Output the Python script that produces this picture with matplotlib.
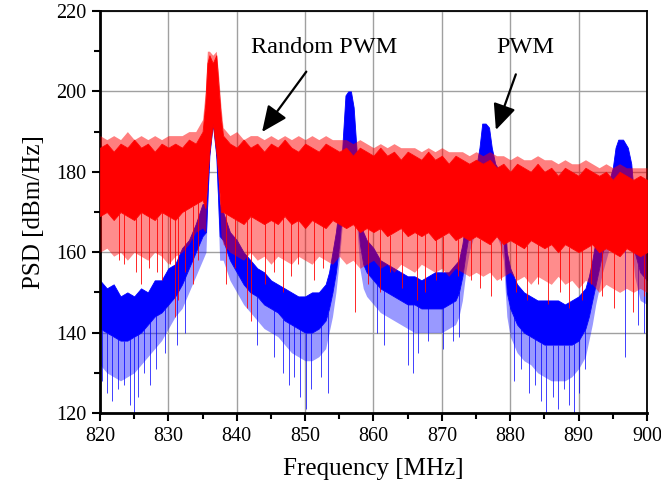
import numpy as np
import matplotlib.pyplot as plt

plt.rcParams['font.family'] = ['Liberation Serif', 'DejaVu Serif']

# ---- Random PWM (red) : band ----
red_freq = [820, 821, 822, 823, 824, 825, 826, 827, 828, 829, 830, 831, 832, 833, 834,
            835, 835.4, 835.7, 836.0, 836.5, 837.0, 837.3, 837.7, 838,
            839, 840, 841, 842, 843, 844, 845, 846, 847, 848, 849, 850, 851, 852, 853, 854, 855,
            856, 857, 858, 859, 860, 861, 862, 863, 864, 865, 866, 867, 868, 869, 870, 871, 872, 873, 874, 875,
            876, 877, 878, 879, 880, 881, 882, 883, 884, 885, 886, 887, 888, 889, 890, 891, 892, 893, 894, 895,
            896, 897, 898, 899, 900]
red_top = [189, 188, 189, 188, 190, 188, 189, 188, 189, 188, 189, 189, 189, 190, 190,
           193, 200, 210, 210, 209, 210, 205, 196, 191,
           189, 190, 188, 189, 189, 188, 189, 188, 189, 188, 189, 188, 189, 188, 189, 188, 188,
           188, 187, 188, 187, 186, 187, 186, 187, 186, 186, 186, 185, 186, 185, 186, 185, 185, 185, 184, 185,
           184, 185, 184, 184, 183, 184, 183, 183, 184, 183, 183, 182, 183, 182, 182, 183, 182, 181, 182, 181,
           182, 181, 181, 181, 181]
red_hi = [186, 187, 185, 187, 186, 188, 186, 187, 185, 187, 186, 187, 186, 188, 187,
          190, 197, 207, 209, 207, 209, 202, 193, 189,
          187, 186, 188, 186, 187, 185, 187, 186, 188, 186, 185, 187, 186, 185, 187, 186, 185,
          186, 184, 186, 185, 184, 186, 184, 185, 183, 185, 184, 183, 185, 183, 184, 182, 184, 183, 182, 183,
          182, 183, 181, 182, 180, 182, 181, 180, 182, 180, 181, 179, 181, 180, 179, 181, 180, 179, 180, 178,
          180, 179, 178, 179, 178]
red_lo = [169, 170, 168, 170, 169, 168, 170, 169, 168, 170, 169, 168, 170, 171, 172,
          173, 171, 178, 185, 192, 185, 179, 170, 170,
          169, 168, 167, 169, 168, 167, 168, 167, 169, 167, 168, 166, 168, 167, 166, 168, 167,
          166, 167, 165, 166, 165, 166, 164, 165, 166, 164, 165, 164, 165, 163, 164, 165, 163, 164, 163, 164,
          163, 162, 164, 162, 163, 162, 161, 163, 162, 161, 162, 160, 162, 161, 160, 161, 162, 160, 161, 160,
          159, 161, 160, 159, 160]
red_fringe = [160, 161, 159, 160, 158, 160, 159, 158, 160, 159, 157, 159, 160, 162, 165,
              166, 165, 178, 185, 192, 185, 179, 164, 162,
              160, 159, 158, 160, 158, 159, 157, 159, 158, 157, 159, 158, 157, 159, 158, 157, 159,
              157, 158, 156, 157, 158, 156, 157, 155, 157, 156, 155, 157, 156, 155, 156, 154, 156, 155, 154, 155,
              154, 155, 153, 154, 155, 153, 154, 152, 154, 153, 152, 154, 152, 153, 151, 153, 152, 150, 152, 151,
              150, 151, 150, 151, 150]
# deep downward spikes of the red trace
red_spike_f = [822.8, 823.5, 825.2, 826.0, 827.1, 828.3, 829.0, 830.3, 831.0, 831.4, 832.5, 833.6, 834.4,
               838.5, 839.8, 841.5, 842.1, 844.2, 845.5, 846.8, 847.9, 849.0, 851.3, 852.6, 857.3,
               859.2, 861.0, 862.4, 864.1, 866.3, 867.5, 869.2, 870.1, 872.4, 874.2, 875.6, 877.2,
               878.6, 880.8, 882.4, 884.0, 885.5, 887.3, 888.6, 890.5, 891.8, 893.4, 895.2, 898.0, 899.5]
red_spike_v = [158, 157, 155, 152, 156, 155, 153, 157, 144, 148, 155, 152, 158,
               152, 156, 146, 143, 152, 155, 150, 154, 157, 153, 156, 145,
               152, 150, 155, 151, 148, 150, 153, 155, 154, 153, 151, 149,
               153, 150, 148, 152, 147, 150, 146, 148, 152, 149, 146, 145, 149]

# ---- PWM (blue) ----
blue_freq = [820, 821, 822, 823, 824, 825, 826, 827, 828, 829, 830, 831, 832, 833, 834, 835,
             835.5, 836.0, 836.5, 837.0, 837.5,
             838, 839, 840, 841, 842, 843, 844, 845, 846, 847, 848, 849, 850, 851, 852, 853,
             853.5, 854, 854.5, 855, 855.5, 855.9, 856.3, 856.7, 857.1, 857.5, 858, 858.5,
             859, 860, 861, 862, 863, 864, 865, 866, 867, 868, 869, 870, 871, 872,
             872.5, 873, 873.5, 874, 874.5, 875, 875.5, 875.9, 876.4, 876.9, 877.3, 877.8, 878.5, 879, 879.5,
             880, 881, 882, 883, 884, 885, 886, 887, 888, 889, 890, 891,
             891.5, 892, 892.5, 893, 893.5, 894, 894.5, 895, 895.4, 895.8, 896.5, 897.2, 897.7, 898.2,
             899, 900]
blue_hi = [153, 151, 152, 149, 150, 149, 151, 150, 153, 153, 156, 157, 161, 163, 167, 172,
           172, 186, 196, 186, 172,
           170, 165, 163, 160, 158, 156, 155, 153, 152, 151, 150, 149, 149, 150, 150, 152,
           155, 160, 165, 172, 188, 199, 200, 200, 196, 186, 172, 165,
           163, 161, 158, 157, 156, 155, 154, 154, 153, 154, 155, 155, 155, 157,
           158, 162, 168, 174, 178, 181, 186, 192, 192, 191, 186, 182, 180, 176, 160,
           156, 152, 150, 149, 148, 148, 148, 148, 147, 148, 149, 151,
           154, 158, 163, 168, 172, 175, 178, 181, 186, 188, 188, 186, 182, 172,
           165, 163]
blue_lo = [141, 140, 139, 138, 138, 139, 140, 142, 144, 145, 147, 149, 152, 156, 160, 164,
           165, 184, 192, 184, 164,
           163, 158, 155, 152, 150, 149, 147, 146, 145, 143, 142, 141, 140, 140, 141, 143,
           146, 150, 155, 162, 172, 180, 182, 182, 180, 172, 162, 157,
           155, 153, 151, 150, 149, 148, 147, 147, 146, 146, 146, 146, 147, 148,
           150, 154, 160, 165, 168, 170, 173, 176, 176, 176, 172, 170, 168, 164, 150,
           146, 142, 140, 139, 138, 137, 137, 137, 137, 137, 138, 141,
           144, 148, 152, 156, 160, 163, 166, 168, 172, 174, 174, 172, 168, 160,
           155, 153]
blue_fringe = [132, 130, 129, 128, 129, 130, 132, 134, 136, 138, 141, 144, 146, 150, 154, 158,
               160, 184, 192, 184, 158,
               158, 153, 150, 147, 145, 143, 141, 140, 139, 137, 135, 134, 133, 133, 134, 136,
               140, 144, 150, 158, 168, 178, 180, 180, 178, 168, 156, 151,
               149, 147, 145, 144, 143, 142, 141, 140, 140, 140, 140, 140, 141, 142,
               144, 148, 155, 160, 163, 165, 168, 172, 172, 172, 168, 165, 162, 158, 144,
               139, 135, 133, 132, 130, 129, 128, 128, 128, 129, 131, 134,
               138, 142, 147, 151, 155, 158, 161, 163, 168, 170, 170, 168, 163, 154,
               148, 147]
blue_spike_f = [820.3, 821.0, 821.8, 822.6, 823.5, 824.4, 825.0, 825.6, 826.4, 827.3, 828.2, 829.5,
                831.3, 832.5, 843.0, 845.5, 846.8, 847.6, 848.3, 849.2, 850.2, 850.9, 852.3, 853.3,
                860.5, 861.5, 865.1, 865.8, 866.5, 868.0, 870.2, 871.7, 872.5,
                880.5, 881.6, 882.8, 883.6, 884.5, 885.3, 886.2, 887.0, 887.8, 888.6, 889.3, 890.1,
                891.0, 896.8, 898.7, 899.5]
blue_spike_v = [128, 125, 123, 126, 127, 122, 120, 124, 130, 127, 131, 135,
                137, 140, 137, 134, 130, 127, 129, 124, 121, 126, 129, 125,
                140, 137, 132, 130, 135, 138, 136, 138, 139,
                128, 131, 125, 127, 123, 120, 124, 121, 126, 122, 118, 125,
                131, 134, 142, 140]

fig = plt.figure(figsize=(6.61, 4.91), dpi=100)
ax = fig.add_axes([0.1513, 0.1589, 0.8275, 0.8187])

blue = '#0000ff'
red = '#ff0000'

# PWM trace
ax.fill_between(blue_freq, blue_fringe, blue_lo, color=blue, alpha=0.4, lw=0, zorder=2)
ax.fill_between(blue_freq, blue_lo, blue_hi, color=blue, lw=0.6, zorder=2)
ax.vlines(blue_spike_f, np.interp(blue_spike_f, blue_freq, blue_lo), blue_spike_v,
          color=blue, lw=0.7, alpha=0.75, zorder=2)

# Random PWM trace
ax.fill_between(red_freq, red_fringe, red_lo, color=red, alpha=0.45, lw=0, zorder=3)
ax.fill_between(red_freq, red_hi, red_top, color=red, alpha=0.5, lw=0, zorder=3)
ax.fill_between(red_freq, red_lo, red_hi, color=red, lw=0.6, zorder=3)
ax.vlines(red_spike_f, np.interp(red_spike_f, red_freq, red_lo), red_spike_v,
          color=red, lw=0.7, alpha=0.85, zorder=3)

ax.set_xlim(820, 900)
ax.set_ylim(120, 220)
ax.set_xticks(np.arange(820, 901, 10))
ax.set_xticks(np.arange(825, 900, 10), minor=True)
ax.set_yticks(np.arange(120, 221, 20))
ax.set_yticks(np.arange(130, 220, 20), minor=True)
ax.grid(True, which='major', color='#a0a0a0', lw=1.0)
ax.set_axisbelow(True)

ax.tick_params(which='major', direction='out', length=6, width=1.5, labelsize=14.5, pad=4)
ax.tick_params(which='minor', direction='out', length=4, width=1.5)
for s in ['left', 'bottom']:
    ax.spines[s].set_linewidth(2.0)
for s in ['top', 'right']:
    ax.spines[s].set_linewidth(1.3)

ax.set_xlabel('Frequency [MHz]', fontsize=18, labelpad=9)
ax.set_ylabel('PSD [dBm/Hz]', fontsize=18, labelpad=8)

ax.annotate('Random PWM', xy=(843.7, 189.9), xytext=(852.8, 211.0),
            fontsize=17.5, ha='center', va='center', zorder=6,
            arrowprops=dict(arrowstyle='-|>,head_length=0.9,head_width=0.4', color='black',
                            lw=1.6, shrinkA=10, shrinkB=0))
ax.annotate('PWM', xy=(877.9, 190.4), xytext=(882.2, 210.8),
            fontsize=17.5, ha='center', va='center', zorder=6,
            arrowprops=dict(arrowstyle='-|>,head_length=0.9,head_width=0.4', color='black',
                            lw=1.6, shrinkA=10, shrinkB=0))

fig.savefig('out.png', dpi=100)
